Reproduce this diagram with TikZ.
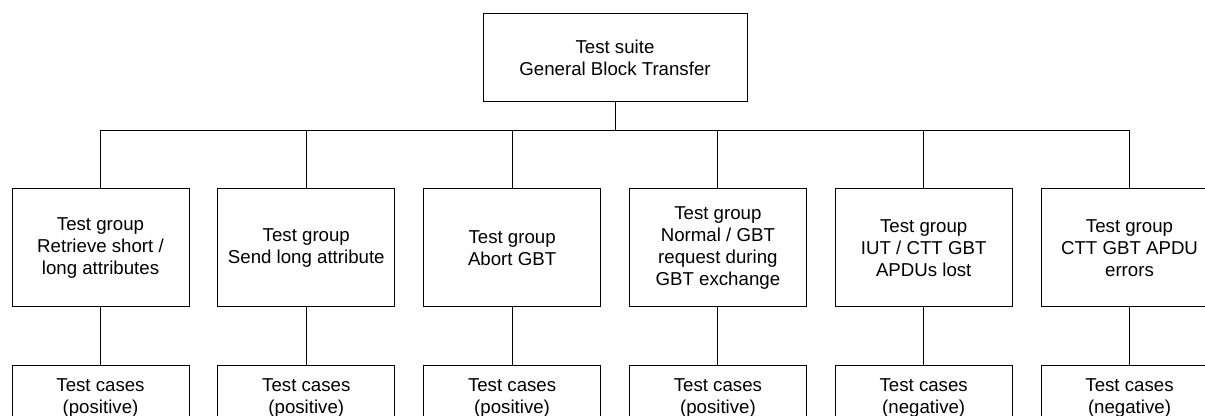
\documentclass[tikz,border=0pt]{standalone}
\usepackage{fontspec}
\setmainfont{Liberation Sans}
\usepackage{tikz}
\usetikzlibrary{positioning}

\begin{document}
\begin{tikzpicture}[x=0.75pt, y=-0.75pt,
		box/.style={draw, rectangle, line width=0.75pt, align=center, inner sep=0pt, font=\fontsize{14}{16.5}\selectfont},
		grp/.style={box, minimum width=132.75pt, minimum height=88.5pt},
		cases/.style={box, minimum width=132.75pt, minimum height=49.5pt, anchor=north}]
				\useasboundingbox (0,0) rectangle (1205,416);
				\node[box, minimum width=198pt, minimum height=66pt] (suite) at (615,58) {Test suite\\General Block Transfer};
				
				\node[grp] (retrieve) at (100.5,248) {Test group\\Retrieve short /\\long attributes};
				\node[grp] (send) at (306.3,248) {Test group\\Send long attribute};
				\node[grp] (abort) at (512.1,248) {Test group\\Abort GBT};
				\node[grp] (normal) at (717.9,248) {Test group\\Normal / GBT\\request during\\GBT exchange};
				\node[grp] (lost) at (923.7,248) {Test group\\IUT / CTT GBT\\APDUs lost};
				\node[grp] (errors) at (1129.5,248) {Test group\\CTT GBT APDU\\errors};
				
				\node[cases] (retrieveTC) at (100.5,365) {Test cases\\(positive)};
				\node[cases] (sendTC) at (306.3,365) {Test cases\\(positive)};
				\node[cases] (abortTC) at (512.1,365) {Test cases\\(positive)};
				\node[cases] (normalTC) at (717.9,365) {Test cases\\(positive)};
				\node[cases] (lostTC) at (923.7,365) {Test cases\\(negative)};
				\node[cases] (errorsTC) at (1129.5,365) {Test cases\\(negative)};
				
				\coordinate (bus) at (615,131);
				\draw[line width=0.75pt] (suite) -- (bus);
				\draw[line width=0.75pt] (bus) -| (retrieve);
				\draw[line width=0.75pt] (bus) -| (send);
				\draw[line width=0.75pt] (bus) -| (abort);
				\draw[line width=0.75pt] (bus) -| (normal);
				\draw[line width=0.75pt] (bus) -| (lost);
				\draw[line width=0.75pt] (bus) -| (errors);
				
				\draw[line width=0.75pt] (retrieve) -- (retrieveTC);
				\draw[line width=0.75pt] (send) -- (sendTC);
				\draw[line width=0.75pt] (abort) -- (abortTC);
				\draw[line width=0.75pt] (normal) -- (normalTC);
				\draw[line width=0.75pt] (lost) -- (lostTC);
				\draw[line width=0.75pt] (errors) -- (errorsTC);
			\end{tikzpicture}
\end{document}
